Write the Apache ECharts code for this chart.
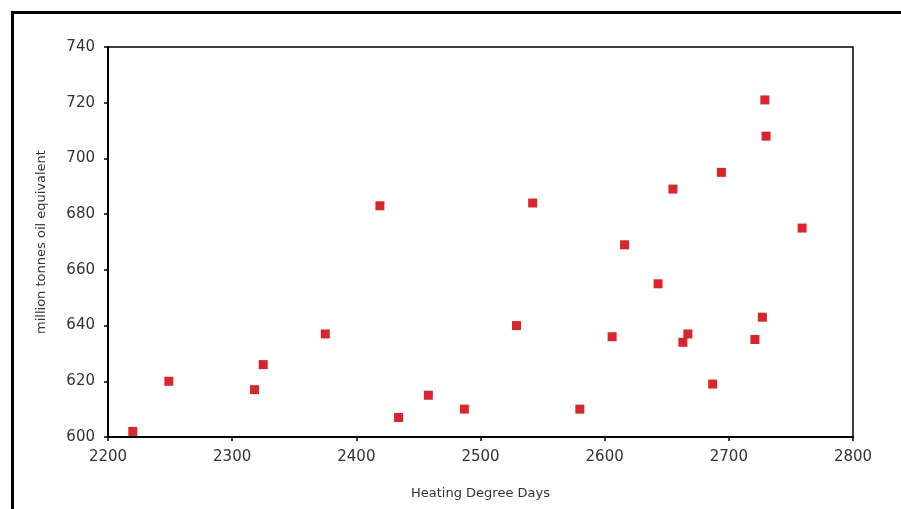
<!DOCTYPE html>
<html>
<head>
<meta charset="utf-8">
<script src="https://cdn.jsdelivr.net/npm/echarts@6/dist/echarts.min.js"></script>
<style>html,body{margin:0;padding:0;background:#fff;}#c{width:901px;height:509px;}</style>
</head>
<body>
<div id="c"></div>
<script>
const heatingDegreeDays = [2220, 2249, 2318, 2325, 2375, 2419, 2434, 2458, 2487, 2529, 2542, 2580, 2606, 2616, 2643, 2655, 2663, 2667, 2687, 2694, 2721, 2727, 2729, 2730, 2759];
const consumption = [602, 620, 617, 626, 637, 683, 607, 615, 610, 640, 684, 610, 636, 669, 655, 689, 634, 637, 619, 695, 635, 643, 721, 708, 675];
const xTicks = [2200, 2300, 2400, 2500, 2600, 2700, 2800];
const yTicks = [600, 620, 640, 660, 680, 700, 720, 740];

const points = heatingDegreeDays.map((x, i) => [x, consumption[i]]);
const font = 'DejaVu Sans';
const chart = echarts.init(document.getElementById('c'), null, {renderer: 'canvas'});
chart.setOption({
  animation: false,
  backgroundColor: '#fff',
  grid: {left: 108, top: 47, right: 48, bottom: 72, show: true, borderColor: '#000', borderWidth: 1.5, backgroundColor: 'transparent'},
  graphic: [{
    type: 'rect', left: 10, top: 10, shape: {width: 1000, height: 1000},
    style: {fill: 'none', stroke: '#000', lineWidth: 3}, silent: true, z: 100
  }],
  xAxis: {
    type: 'value', min: xTicks[0], max: xTicks[xTicks.length - 1], interval: 100,
    name: 'Heating Degree Days', nameLocation: 'middle', nameGap: 50,
    nameTextStyle: {fontFamily: font, fontSize: 13, color: '#333'},
    axisLine: {show: true, lineStyle: {color: '#000', width: 2}},
    axisTick: {show: true, inside: false, length: 4, lineStyle: {color: '#000', width: 1.5}},
    axisLabel: {fontFamily: font, fontSize: 15, color: '#333', margin: 13, formatter: v => String(v)},
    splitLine: {show: false}
  },
  yAxis: {
    type: 'value', min: yTicks[0], max: yTicks[yTicks.length - 1], interval: 20,
    name: 'million tonnes oil equivalent', nameLocation: 'middle', nameGap: 60, nameRotate: 90,
    nameTextStyle: {fontFamily: font, fontSize: 13, color: '#333'},
    axisLine: {show: true, lineStyle: {color: '#000', width: 2}},
    axisTick: {show: true, inside: false, length: 4, lineStyle: {color: '#000', width: 1.5}},
    axisLabel: {fontFamily: font, fontSize: 15, color: '#333', margin: 13, formatter: v => String(v)},
    splitLine: {show: false}
  },
  series: [{
    type: 'scatter', data: points, symbol: 'rect', symbolSize: 9,
    itemStyle: {color: '#d7262d', opacity: 1}
  }]
});
</script>
</body>
</html>
